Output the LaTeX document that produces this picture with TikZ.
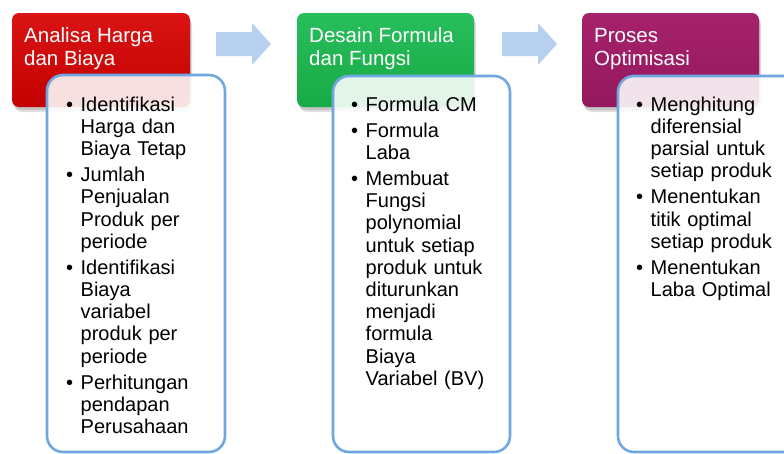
\documentclass[tikz,border=0pt]{standalone}
\usepackage{fontspec}
\setmainfont{Liberation Sans}
\definecolor{hredT}{RGB}{218,20,20}
\definecolor{hredB}{RGB}{196,0,0}
\definecolor{hgrnT}{RGB}{40,190,92}
\definecolor{hgrnB}{RGB}{24,170,70}
\definecolor{hmagT}{RGB}{166,34,108}
\definecolor{hmagB}{RGB}{148,24,92}
\definecolor{bodyline}{RGB}{111,168,224}
\definecolor{arrowfill}{RGB}{183,208,238}
\newcommand\bitem[1]{\par\noindent\hangindent=14.5pt\hangafter=1\makebox[14.5pt][l]{\textbullet}#1\par}
\tikzset{
  headbox/.style={rounded corners=7pt},
  headshadow/.style={rounded corners=8pt, fill=black, fill opacity=0.12},
  bodybox/.style={draw=bodyline, line width=2.6pt, rounded corners=16pt, fill=white, fill opacity=0.88},
  blockarrow/.style={fill=arrowfill},
  headtext/.style={anchor=base west, inner sep=0pt, align=left, text=white,
    font=\fontsize{20.5}{22.5}\selectfont},
  bodytext/.style={anchor=north west, inner sep=0pt, text width=200pt,
    font=\fontsize{20}{22.2}\selectfont\setlength{\parskip}{3.8pt}\raggedright}
}
\begin{document}
\begin{tikzpicture}[x=1pt,y=-1pt]
\useasboundingbox (0,0) rectangle (784,453);
% header shadows
\foreach \xa/\xb in {12/190,297/474,582/759}{
  \fill[headshadow] (\xa+1,15) rectangle (\xb+1,110);
  \fill[headshadow] (\xa+2,17) rectangle (\xb+2,112);
}
% headers
\shade[headbox, top color=hredT, bottom color=hredB] (12,13) rectangle (190,107);
\shade[headbox, top color=hgrnT, bottom color=hgrnB] (297,13) rectangle (474,107);
\shade[headbox, top color=hmagT, bottom color=hmagB] (582,13) rectangle (759,107);
\node[headtext] (h1) at (24,65) {Analisa Harga\\dan Biaya};
\node[headtext] (h2) at (309,65) {Desain Formula\\dan Fungsi};
\node[headtext] (h3) at (594,65) {Proses\\Optimisasi};
% block arrows
\fill[blockarrow] (216,32) -- (252,32) -- (252,23) -- (271,44) -- (252,65) -- (252,56) -- (216,56) -- cycle;
\fill[blockarrow] (502,32) -- (538,32) -- (538,23) -- (557,44) -- (538,65) -- (538,56) -- (502,56) -- cycle;
% body boxes
\path[bodybox] (47,75) rectangle (225,452);
\path[bodybox] (333,76) rectangle (510,452);
\path[bodybox] (618,76) rectangle (805,452);
% body texts
\node[bodytext] (b1) at (66,85) {%
\bitem{Identifikasi\newline Harga dan\newline Biaya Tetap}%
\bitem{Jumlah\newline Penjualan\newline Produk per\newline periode}%
\bitem{Identifikasi\newline Biaya\newline variabel\newline produk per\newline periode}%
\bitem{Perhitungan\newline pendapan\newline Perusahaan}};
\node[bodytext] (b2) at (351,85) {%
\bitem{Formula CM}%
\bitem{Formula\newline Laba}%
\bitem{Membuat\newline Fungsi\newline polynomial\newline untuk setiap\newline produk untuk\newline diturunkan\newline menjadi\newline formula\newline Biaya\newline Variabel (BV)}};
\node[bodytext] (b3) at (636,85) {%
\bitem{Menghitung\newline diferensial\newline parsial untuk\newline setiap produk}%
\bitem{Menentukan\newline titik optimal\newline setiap produk}%
\bitem{Menentukan\newline Laba Optimal}};
\end{tikzpicture}
\end{document}
